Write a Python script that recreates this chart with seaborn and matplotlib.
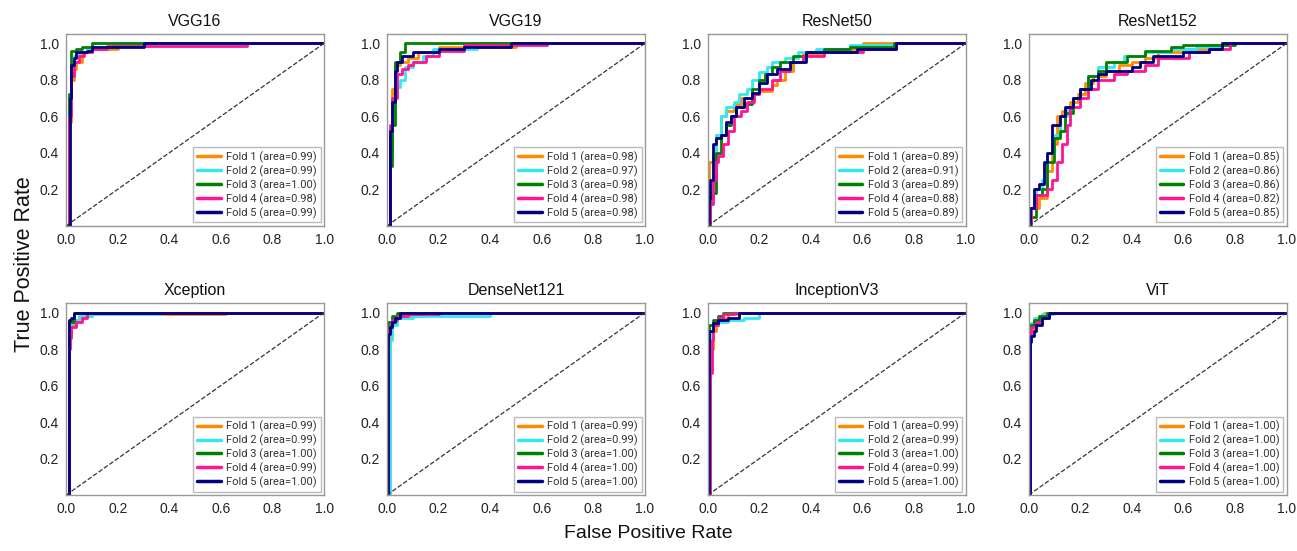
import numpy as np
import pandas as pd
import matplotlib
matplotlib.use("Agg")
import matplotlib.pyplot as plt
import seaborn as sns

# ---------------- data ----------------
MODELS = ["VGG16", "VGG19", "ResNet50", "ResNet152",
          "Xception", "DenseNet121", "InceptionV3", "ViT"]
FOLDS = ["Fold 1", "Fold 2", "Fold 3", "Fold 4", "Fold 5"]
COLORS = ["darkorange", "#33e8f0", "green", "deeppink", "navy"]
CHANCE = [0.0, 1.0]
X_TICKS = [0.0, 0.2, 0.4, 0.6, 0.8, 1.0]
Y_TICKS = [0.2, 0.4, 0.6, 0.8, 1.0]

AUC_VGG16 = [0.99, 0.99, 1.00, 0.98, 0.99]
AUC_VGG19 = [0.98, 0.97, 0.98, 0.98, 0.98]
AUC_RESNET50 = [0.89, 0.91, 0.89, 0.88, 0.89]
AUC_RESNET152 = [0.85, 0.86, 0.86, 0.82, 0.85]
AUC_XCEPTION = [0.99, 0.99, 1.00, 0.99, 1.00]
AUC_DENSENET121 = [0.99, 0.99, 1.00, 1.00, 1.00]
AUC_INCEPTIONV3 = [0.99, 0.99, 1.00, 0.99, 1.00]
AUC_VIT = [1.00, 1.00, 1.00, 1.00, 1.00]

# ROC operating points (fpr, tpr) per fold
VGG16_FPR = [
    [0, 0.01, 0.02, 0.03, 0.04, 0.06, 0.1, 0.2, 0.3, 1],
    [0, 0.01, 0.02, 0.03, 0.05, 0.08, 0.1, 0.18, 1],
    [0, 0.01, 0.02, 0.04, 0.06, 0.1, 1],
    [0, 0.01, 0.02, 0.03, 0.05, 0.07, 0.1, 0.16, 0.7, 1],
    [0, 0.015, 0.02, 0.03, 0.04, 0.08, 0.1, 0.3, 1],
]
VGG16_TPR = [
    [0, 0.57, 0.8, 0.86, 0.9, 0.95, 0.97, 0.99, 1.0, 1.0],
    [0, 0.7, 0.9, 0.93, 0.95, 0.97, 0.98, 1.0, 1.0],
    [0, 0.72, 0.96, 0.97, 0.98, 1.0, 1.0],
    [0, 0.6, 0.82, 0.9, 0.93, 0.95, 0.97, 0.985, 1.0, 1.0],
    [0, 0.7, 0.88, 0.92, 0.95, 0.96, 0.98, 1.0, 1.0],
]

VGG19_FPR = [
    [0, 0.01, 0.02, 0.03, 0.05, 0.08, 0.12, 0.2, 0.5, 1],
    [0, 0.01, 0.02, 0.03, 0.04, 0.05, 0.07, 0.1, 0.14, 0.18, 0.35, 1],
    [0, 0.01, 0.02, 0.03, 0.05, 0.07, 1],
    [0, 0.01, 0.02, 0.04, 0.06, 0.08, 0.1, 0.15, 0.2, 0.3, 0.62, 1],
    [0, 0.01, 0.02, 0.03, 0.04, 0.06, 0.1, 0.2, 0.3, 0.48, 1],
]
VGG19_TPR = [
    [0, 0.5, 0.75, 0.88, 0.9, 0.92, 0.95, 0.98, 1.0, 1.0],
    [0, 0.4, 0.6, 0.72, 0.76, 0.8, 0.87, 0.9, 0.93, 0.97, 1.0, 1.0],
    [0, 0.33, 0.55, 0.9, 0.95, 1.0, 1.0],
    [0, 0.55, 0.7, 0.83, 0.86, 0.88, 0.9, 0.93, 0.96, 0.99, 1.0, 1.0],
    [0, 0.52, 0.68, 0.85, 0.9, 0.93, 0.95, 0.97, 0.98, 1.0, 1.0],
]

RESNET50_FPR = [
    [0, 0.005, 0.02, 0.03, 0.05, 0.07, 0.1, 0.13, 0.17, 0.2, 0.25, 0.27, 0.3, 0.33, 0.37, 0.45, 0.6, 1],
    [0, 0.01, 0.02, 0.03, 0.05, 0.07, 0.1, 0.12, 0.15, 0.17, 0.2, 0.23, 0.25, 0.3, 0.35, 0.42, 0.55, 0.72, 1],
    [0, 0.01, 0.02, 0.03, 0.05, 0.07, 0.09, 0.11, 0.14, 0.17, 0.2, 0.22, 0.25, 0.28, 0.33, 0.38, 0.45, 0.55, 0.72, 1],
    [0, 0.01, 0.02, 0.03, 0.04, 0.06, 0.08, 0.1, 0.13, 0.15, 0.18, 0.2, 0.25, 0.28, 0.32, 0.37, 0.45, 0.6, 0.73, 1],
    [0, 0.005, 0.01, 0.02, 0.03, 0.05, 0.07, 0.09, 0.11, 0.14, 0.17, 0.2, 0.23, 0.27, 0.32, 0.38, 0.58, 0.73, 1],
]
RESNET50_TPR = [
    [0, 0.35, 0.4, 0.5, 0.6, 0.63, 0.67, 0.7, 0.72, 0.74, 0.77, 0.8, 0.85, 0.9, 0.94, 0.97, 1.0, 1.0],
    [0, 0.2, 0.35, 0.5, 0.6, 0.65, 0.68, 0.72, 0.75, 0.8, 0.84, 0.87, 0.9, 0.92, 0.95, 0.97, 0.99, 1.0, 1.0],
    [0, 0.15, 0.18, 0.4, 0.5, 0.55, 0.6, 0.65, 0.67, 0.75, 0.8, 0.83, 0.87, 0.9, 0.93, 0.95, 0.97, 0.98, 1.0, 1.0],
    [0, 0.12, 0.25, 0.35, 0.38, 0.45, 0.52, 0.6, 0.63, 0.68, 0.72, 0.75, 0.8, 0.85, 0.9, 0.93, 0.95, 0.97, 1.0, 1.0],
    [0, 0.15, 0.25, 0.45, 0.48, 0.5, 0.57, 0.6, 0.65, 0.7, 0.73, 0.78, 0.83, 0.86, 0.9, 0.95, 0.97, 1.0, 1.0],
]

RESNET152_FPR = [
    [0, 0.01, 0.04, 0.07, 0.09, 0.11, 0.13, 0.16, 0.19, 0.22, 0.25, 0.3, 0.35, 0.4, 0.45, 0.5, 0.6, 0.7, 0.75, 1],
    [0, 0.01, 0.03, 0.05, 0.07, 0.09, 0.12, 0.15, 0.17, 0.2, 0.23, 0.27, 0.33, 0.37, 0.45, 0.55, 0.65, 0.75, 1],
    [0, 0.01, 0.03, 0.05, 0.07, 0.1, 0.12, 0.14, 0.17, 0.2, 0.23, 0.27, 0.3, 0.38, 0.45, 0.55, 0.6, 0.8, 1],
    [0, 0.01, 0.03, 0.07, 0.09, 0.11, 0.13, 0.15, 0.16, 0.2, 0.23, 0.27, 0.33, 0.38, 0.45, 0.5, 0.62, 0.7, 0.78, 1],
    [0, 0.005, 0.02, 0.04, 0.06, 0.07, 0.09, 0.12, 0.14, 0.17, 0.2, 0.24, 0.27, 0.3, 0.4, 0.43, 0.48, 0.6, 0.7, 0.75, 1],
]
RESNET152_TPR = [
    [0, 0.1, 0.15, 0.3, 0.45, 0.6, 0.63, 0.68, 0.72, 0.78, 0.82, 0.85, 0.88, 0.9, 0.92, 0.95, 0.97, 0.99, 1.0, 1.0],
    [0, 0.1, 0.2, 0.25, 0.4, 0.5, 0.6, 0.65, 0.7, 0.75, 0.82, 0.87, 0.9, 0.93, 0.95, 0.97, 0.98, 1.0, 1.0],
    [0, 0.05, 0.17, 0.2, 0.35, 0.48, 0.52, 0.62, 0.7, 0.75, 0.82, 0.85, 0.9, 0.93, 0.96, 0.98, 0.99, 1.0, 1.0],
    [0, 0.1, 0.17, 0.2, 0.25, 0.35, 0.45, 0.55, 0.65, 0.7, 0.75, 0.8, 0.83, 0.85, 0.88, 0.92, 0.95, 0.97, 1.0, 1.0],
    [0, 0.1, 0.2, 0.23, 0.35, 0.4, 0.55, 0.6, 0.65, 0.7, 0.75, 0.8, 0.83, 0.85, 0.87, 0.9, 0.93, 0.95, 0.97, 1.0, 1.0],
]

XCEPTION_FPR = [
    [0, 0.01, 0.02, 0.03, 0.05, 0.1, 0.62, 1],
    [0, 0.01, 0.02, 0.03, 0.05, 0.1, 0.37, 1],
    [0, 0.01, 0.03, 1],
    [0, 0.01, 0.015, 0.02, 0.04, 0.06, 0.08, 1],
    [0, 0.01, 0.02, 0.03, 1],
]
XCEPTION_TPR = [
    [0, 0.88, 0.93, 0.96, 0.98, 0.99, 1.0, 1.0],
    [0, 0.9, 0.94, 0.96, 0.98, 0.99, 1.0, 1.0],
    [0, 0.95, 1.0, 1.0],
    [0, 0.8, 0.86, 0.92, 0.95, 0.97, 1.0, 1.0],
    [0, 0.96, 0.97, 1.0, 1.0],
]

DENSENET121_FPR = [
    [0, 0.01, 0.02, 0.03, 0.05, 0.15, 1],
    [0, 0.01, 0.02, 0.04, 0.1, 0.4, 1],
    [0, 0.005, 0.02, 0.04, 1],
    [0, 0.005, 0.01, 0.02, 0.04, 0.08, 0.2, 1],
    [0, 0.005, 0.01, 0.02, 0.03, 0.05, 1],
]
DENSENET121_TPR = [
    [0, 0.9, 0.95, 0.97, 0.98, 1.0, 1.0],
    [0, 0.85, 0.93, 0.97, 0.98, 1.0, 1.0],
    [0, 0.95, 0.98, 1.0, 1.0],
    [0, 0.9, 0.93, 0.96, 0.98, 0.99, 1.0, 1.0],
    [0, 0.88, 0.92, 0.95, 0.97, 1.0, 1.0],
]

INCEPTIONV3_FPR = [
    [0, 0.01, 0.02, 0.03, 0.05, 0.08, 0.12, 1],
    [0, 0.01, 0.02, 0.04, 0.08, 0.14, 0.2, 1],
    [0, 0.005, 0.02, 0.04, 0.06, 1],
    [0, 0.01, 0.015, 0.02, 0.04, 0.06, 0.1, 1],
    [0, 0.005, 0.02, 0.04, 0.08, 0.12, 1],
]
INCEPTIONV3_TPR = [
    [0, 0.8, 0.9, 0.95, 0.97, 0.99, 1.0, 1.0],
    [0, 0.9, 0.93, 0.95, 0.96, 0.97, 1.0, 1.0],
    [0, 0.93, 0.96, 0.98, 1.0, 1.0],
    [0, 0.67, 0.85, 0.93, 0.97, 0.99, 1.0, 1.0],
    [0, 0.9, 0.94, 0.96, 0.97, 1.0, 1.0],
]

VIT_FPR = [
    [0, 0.005, 0.02, 0.04, 0.06, 1],
    [0, 0.005, 0.02, 0.05, 0.1, 1],
    [0, 0.005, 0.02, 0.04, 0.07, 1],
    [0, 0.005, 0.01, 0.03, 0.05, 0.08, 1],
    [0, 0.005, 0.01, 0.02, 0.03, 0.05, 0.08, 1],
]
VIT_TPR = [
    [0, 0.9, 0.95, 0.98, 1.0, 1.0],
    [0, 0.94, 0.97, 0.99, 1.0, 1.0],
    [0, 0.93, 0.96, 0.98, 1.0, 1.0],
    [0, 0.88, 0.92, 0.95, 0.97, 1.0, 1.0],
    [0, 0.84, 0.87, 0.9, 0.93, 0.97, 1.0, 1.0],
]

FPRS = [VGG16_FPR, VGG19_FPR, RESNET50_FPR, RESNET152_FPR,
        XCEPTION_FPR, DENSENET121_FPR, INCEPTIONV3_FPR, VIT_FPR]
TPRS = [VGG16_TPR, VGG19_TPR, RESNET50_TPR, RESNET152_TPR,
        XCEPTION_TPR, DENSENET121_TPR, INCEPTIONV3_TPR, VIT_TPR]
AUCS = [AUC_VGG16, AUC_VGG19, AUC_RESNET50, AUC_RESNET152,
        AUC_XCEPTION, AUC_DENSENET121, AUC_INCEPTIONV3, AUC_VIT]

# ---------------- plotting ----------------
sns.set_theme(style="white")
plt.rcParams["font.family"] = ["Liberation Sans", "DejaVu Sans"]

fig, axes = plt.subplots(2, 4, figsize=(12.97, 5.51), dpi=100)
fig.subplots_adjust(left=0.051, right=0.992, top=0.938, bottom=0.1016,
                    wspace=0.244, hspace=0.405)

for ax, name, fprs, tprs, aucs in zip(axes.flat, MODELS, FPRS, TPRS, AUCS):
    rows = []
    for fold, f, t, a in zip(FOLDS, fprs, tprs, aucs):
        label = f"{fold} (area={a:.2f})"
        for xv, yv in zip(f, t):
            rows.append((label, xv, yv))
    df = pd.DataFrame(rows, columns=["fold", "fpr", "tpr"])
    labels = list(dict.fromkeys(df["fold"]))
    sns.lineplot(data=df, x="fpr", y="tpr", hue="fold", hue_order=labels,
                 palette=COLORS, estimator=None, sort=False,
                 drawstyle="steps-post", lw=2, ax=ax)
    ax.plot(CHANCE, CHANCE, linestyle="--", color="#333333", lw=0.9)
    ax.set_xlim(0, 1)
    ax.set_ylim(0, 1.05)
    ax.set_xticks(X_TICKS)
    ax.set_yticks(Y_TICKS)
    ax.set_xticklabels([f"{v:.1f}" for v in X_TICKS])
    ax.set_yticklabels([f"{v:.1f}" for v in Y_TICKS])
    ax.set_xlabel("")
    ax.set_ylabel("")
    ax.set_title(name, fontsize=11.5, pad=6, color="#111111")
    ax.tick_params(axis="both", labelsize=10, length=3, width=0.8,
                   direction="out", colors="#444444", labelcolor="#222222",
                   pad=2)
    for s in ax.spines.values():
        s.set_color("#999999")
        s.set_linewidth(1.0)
    leg = ax.legend(loc="lower right", frameon=True, fancybox=False,
                    edgecolor="#bbbbbb", framealpha=1, handlelength=2.1,
                    borderpad=0.35, labelspacing=0.22, handletextpad=0.5,
                    borderaxespad=0.3,
                    prop={"family": ["Roboto", "DejaVu Sans"], "size": 8})
    for txt in leg.get_texts():
        txt.set_color("#333333")
    for h in leg.get_lines():
        h.set_linewidth(2.5)

fig.text(0.5, 0.016, "False Positive Rate", ha="center", va="bottom",
         fontsize=14, color="#111111")
fig.text(0.011, 0.52, "True Positive Rate", ha="left", va="center",
         rotation=90, fontsize=15.5, color="#111111")

fig.savefig("out.png", dpi=100, facecolor="white")
